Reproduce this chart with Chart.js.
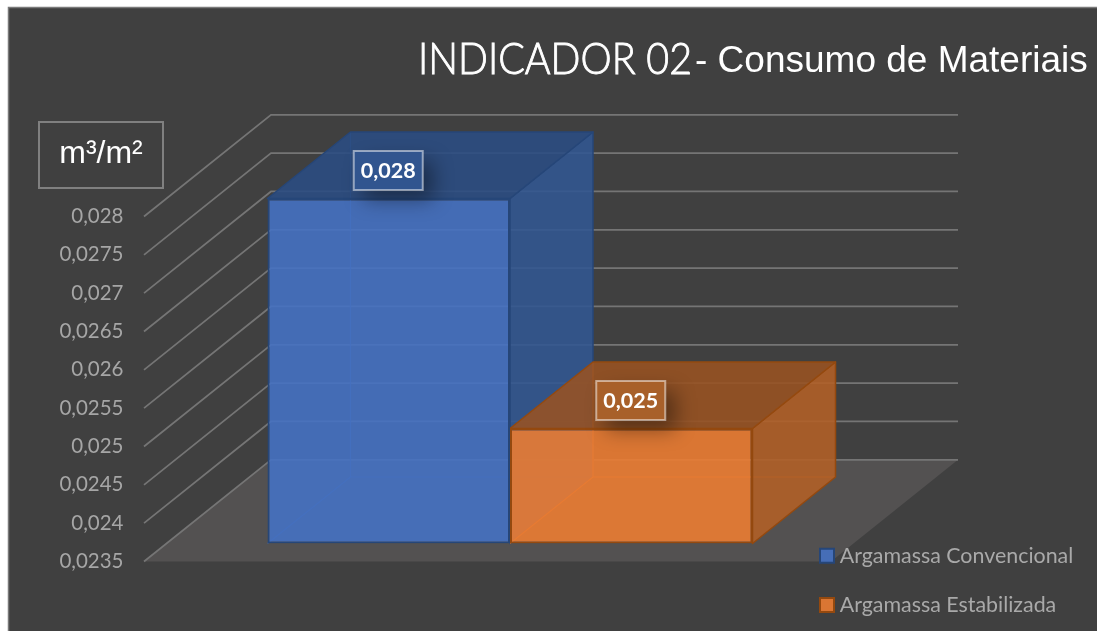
<!DOCTYPE html>
<html>
<head>
<meta charset="utf-8">
<style>html,body{margin:0;padding:0;background:#fff;overflow:hidden}canvas{display:block}</style>
<script src="https://cdn.jsdelivr.net/npm/chart.js@4"></script>
</head>
<body>
<canvas id="c" width="1097" height="631"></canvas>
<script>
const categories = ['Consumo'];
const seriesNames = ['Argamassa Convencional', 'Argamassa Estabilizada'];
const convencional = [0.028];
const estabilizada = [0.025];
const dataLabels = ['0,028', '0,025'];
const titleMain = 'INDICADOR 02';
const titleRest = '- Consumo de Materiais';
const unitLabel = 'm³/m²';

const axisMin = 0.0235, axisMax = 0.028, axisStep = 0.0005;

const look = [
  {front:'rgba(68,114,196,0.89)', border:'#264678', side:'rgba(49,87,146,0.88)', top:'rgba(42,76,131,0.88)', inner:'rgba(60,100,170,0.75)', box:'#31558f'},
  {front:'rgba(237,125,49,0.89)', border:'#94490f', side:'rgba(179,96,37,0.88)', top:'rgba(153,82,33,0.88)', inner:'rgba(225,115,35,0.8)', box:'#a8602a'}
];
// perspective offsets of the 3D projection
const wall = {dx:127, dy:-101.7};      // front of floor -> back wall
const frontGap = {dx:-22.5, dy:18};    // bar plane -> axis plane
const barDepth = {dx:83, dy:-66.5};    // depth of a bar

function poly(ctx, pts, fill, stroke, lw){
  ctx.beginPath();
  pts.forEach((p,i)=> i?ctx.lineTo(p[0],p[1]):ctx.moveTo(p[0],p[1]));
  ctx.closePath();
  if(fill){ctx.fillStyle=fill;ctx.fill();}
  if(stroke){ctx.strokeStyle=stroke;ctx.lineWidth=lw||1.5;ctx.stroke();}
}

const scene = {
  id:'scene',
  afterLayout(chart){
    const l = chart.legend;
    l.left = 797; l.right = 1097; l.top = 517; l.bottom = 800;
  },
  beforeDraw(chart){
    const ctx = chart.ctx, y = chart.scales.y, a = chart.chartArea;
    ctx.save();
    // panel
    ctx.fillStyle = '#ffffff'; ctx.fillRect(0,0,1097,631);
    ctx.fillStyle = '#404040'; ctx.fillRect(8,7,1089,624);
    ctx.strokeStyle = '#7a7a7a'; ctx.lineWidth = 1.5;
    ctx.beginPath(); ctx.moveTo(8.5,631); ctx.lineTo(8.5,7.5); ctx.lineTo(1097,7.5); ctx.stroke();

    // plane extents
    const x0 = a.left + frontGap.dx;
    const x1 = a.right + frontGap.dx;
    const yBase = y.getPixelForValue(axisMin) + frontGap.dy;
    // floor
    poly(ctx, [[x0,yBase],[x0+wall.dx,yBase+wall.dy],[x1+wall.dx,yBase+wall.dy],[x1,yBase]], '#535151');
    // grid: side wall + back wall
    ctx.strokeStyle = '#757575'; ctx.lineWidth = 1.7;
    y.ticks.forEach(t=>{
      const py = y.getPixelForValue(t.value) + frontGap.dy;
      ctx.beginPath();
      ctx.moveTo(x0,py);
      ctx.lineTo(x0+wall.dx,py+wall.dy);
      ctx.lineTo(x1+wall.dx,py+wall.dy);
      ctx.stroke();
    });

    // title
    ctx.textBaseline = 'alphabetic'; ctx.textAlign = 'left'; ctx.fillStyle = '#ffffff';
    ctx.font = '300 43px Lato';
    const mw = ctx.measureText(titleMain).width;
    ctx.save();
    ctx.translate(418,74); ctx.scale(274/mw,1);
    ctx.fillText(titleMain, 0, 0);
    ctx.strokeStyle = '#ffffff'; ctx.lineWidth = 0.9;
    ctx.strokeText(titleMain, 0, 0);
    ctx.restore();
    ctx.font = '37px "Liberation Sans"';
    ctx.fillText(titleRest, 695, 72);

    // unit box
    ctx.strokeStyle = '#808080'; ctx.lineWidth = 2;
    ctx.strokeRect(39,122,124,66);
    ctx.textAlign = 'center';
    ctx.font = '32px "Liberation Sans"';
    ctx.fillText(unitLabel, 101, 163);
    ctx.restore();
  },
  beforeDatasetsDraw(chart){
    const ctx = chart.ctx;
    ctx.save();
    ctx.lineJoin = 'round';
    chart.data.datasets.forEach((ds,i)=>{
      const b = chart.getDatasetMeta(i).data[0];
      const L = b.x - b.width/2, R = b.x + b.width/2, T = b.y, B = b.base;
      const d = barDepth, s = look[i];
      // hidden edges
      ctx.strokeStyle = s.inner; ctx.lineWidth = 1.2;
      ctx.beginPath();
      ctx.moveTo(L,B); ctx.lineTo(L+d.dx,B+d.dy); ctx.lineTo(R+d.dx,B+d.dy);
      ctx.moveTo(L+d.dx,B+d.dy); ctx.lineTo(L+d.dx,T+d.dy);
      ctx.stroke();
      // side and top
      poly(ctx, [[R,T],[R+d.dx,T+d.dy],[R+d.dx,B+d.dy],[R,B]], s.side, s.border, 1.5);
      poly(ctx, [[L,T],[L+d.dx,T+d.dy],[R+d.dx,T+d.dy],[R,T]], s.top, s.border, 1.5);
    });
    ctx.restore();
  },
  afterDatasetsDraw(chart){
    const ctx = chart.ctx;
    chart.data.datasets.forEach((ds,i)=>{
      const b = chart.getDatasetMeta(i).data[0];
      const cx = b.x - 0.5, cy = b.y - 28, w = 69, h = 39;
      ctx.save();
      ctx.shadowColor = 'rgba(0,0,0,0.4)';
      ctx.shadowBlur = 20; ctx.shadowOffsetX = 10; ctx.shadowOffsetY = 10;
      ctx.fillStyle = look[i].box;
      ctx.fillRect(cx-w/2, cy-h/2, w, h);
      ctx.restore();
      ctx.save();
      ctx.strokeStyle = 'rgba(255,255,255,0.5)'; ctx.lineWidth = 2;
      ctx.strokeRect(cx-w/2, cy-h/2, w, h);
      ctx.fillStyle = '#ffffff';
      ctx.font = '700 21.5px Lato';
      ctx.textAlign = 'center'; ctx.textBaseline = 'middle';
      ctx.fillText(dataLabels[i], cx, cy+1);
      ctx.restore();
    });
  }
};

new Chart(document.getElementById('c'), {
  type:'bar',
  data:{
    labels: categories,
    datasets:[
      {label:seriesNames[0], data:convencional, base:axisMin, backgroundColor:look[0].front, borderColor:look[0].border, borderWidth:2, borderSkipped:false},
      {label:seriesNames[1], data:estabilizada, base:axisMin, backgroundColor:look[1].front, borderColor:look[1].border, borderWidth:2, borderSkipped:false}
    ]
  },
  options:{
    responsive:false,
    animation:false,
    layout:{padding:{left:0,right:243.5,top:198.5,bottom:87.5}},
    datasets:{bar:{categoryPercentage:0.706,barPercentage:1}},
    plugins:{
      title:{display:false},
      tooltip:{enabled:false},
      legend:{
        display:true,
        position:'chartArea',
        align:'start',
        labels:{
          usePointStyle:true,
          pointStyle:'rect',
          boxWidth:4,
          boxHeight:14,
          padding:28,
          color:'#a9a9a9',
          font:{family:'Lato',size:21.4}
        }
      }
    },
    scales:{
      x:{display:false,grid:{display:false}},
      y:{
        min:axisMin,max:axisMax,
        grid:{display:false,drawTicks:false,tickLength:0},
        border:{display:false},
        afterFit(s){s.width=166.5;},
        ticks:{
          stepSize:axisStep,
          autoSkip:false,
          padding:43,
          labelOffset:18,
          color:'#a6a6a6',
          font:{family:'Lato',size:20.5},
          callback:v=>String(Number(v.toFixed(4))).replace('.',',')
        }
      }
    }
  },
  plugins:[scene]
});
</script>
</body>
</html>
